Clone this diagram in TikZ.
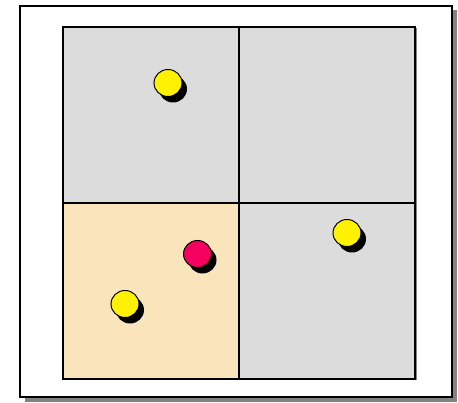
\documentclass[tikz,border=0pt]{standalone}
\usepackage{tikz}
\definecolor{cellgrey}{RGB}{220,220,220}
\definecolor{cellpeach}{RGB}{250,228,188}
\definecolor{dotpink}{RGB}{245,0,95}
\definecolor{shadowgrey}{RGB}{130,130,130}
\tikzset{
    frame/.style={draw=black, line width=2pt, fill=white},
    cell/.style={draw=black, line width=1.6pt, fill=cellgrey},
    dotshadow/.style={fill=black},
    dot/.style={draw=black, line width=1pt},
}
\newcommand{\placedot}[3]{%
    \fill[dotshadow] (#1+5,#2+6) ellipse (14 and 13.5);
    \draw[dot, fill=#3] (#1,#2) ellipse (14 and 13.5);
}
\begin{document}
\begin{tikzpicture}[x=1pt, y=-1pt]
    \useasboundingbox (0,0) rectangle (458,403);
    % outer frame with shadow
    \fill[shadowgrey] (25,10) rectangle (457,402);
    \draw[frame] (20,6) rectangle (452,397);
    % grid of four cells
    \fill[shadowgrey] (64.5,28.5) rectangle (416.5,380.5);
    \draw[cell] (63,27) rectangle (239,203);
    \draw[cell] (239,27) rectangle (415,203);
    \draw[cell, fill=cellpeach] (63,203) rectangle (239,379);
    \draw[cell] (239,203) rectangle (415,379);
    % dots
    \placedot{168}{83}{yellow}
    \placedot{347}{233}{yellow}
    \placedot{197.5}{254}{dotpink}
    \placedot{125}{304}{yellow}
\end{tikzpicture}
\end{document}
